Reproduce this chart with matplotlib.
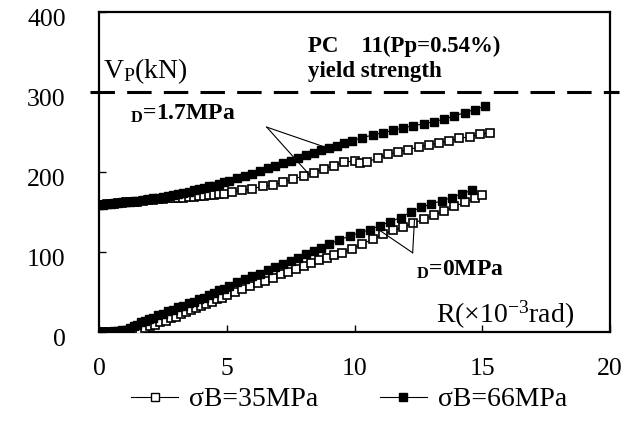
import matplotlib
matplotlib.use("Agg")
import matplotlib.pyplot as plt
import matplotlib.transforms as mtransforms

plt.rcParams['font.family'] = ['Liberation Serif', 'DejaVu Serif']
plt.rcParams['mathtext.fontset'] = 'custom'
plt.rcParams['mathtext.rm'] = 'Liberation Serif'
plt.rcParams['mathtext.it'] = 'Liberation Serif:italic'
plt.rcParams['mathtext.bf'] = 'Liberation Serif:bold'

# sigma_D = 1.7 MPa, sigma_B = 66 MPa (filled)
r_hi_66 = [0, 0.15, 0.3, 0.45, 0.6, 0.75, 0.9, 1.05, 1.2, 1.35, 1.5, 1.7, 1.9, 2.1, 2.3,
           2.5, 2.7, 2.9, 3.1, 3.3, 3.5, 3.7, 3.9, 4.1, 4.3, 4.5, 4.7, 4.9, 5.1, 5.4, 5.7,
           6.0, 6.3, 6.6, 6.9, 7.2, 7.5, 7.8, 8.1, 8.4, 8.7, 9.0, 9.3, 9.6, 9.9, 10.3, 10.7,
           11.1, 11.5, 11.9, 12.3, 12.7, 13.1, 13.5, 13.9, 14.3, 14.7, 15.1]
v_hi_66 = [159, 159, 160, 160, 161, 161, 162, 162, 163, 164, 164, 165, 166, 167, 168,
           169, 170, 171, 173, 174, 175, 177, 179, 180, 182, 183, 185, 187, 189, 192, 195,
           198, 201, 205, 208, 211, 214, 217, 221, 224, 227, 230, 233, 236, 239, 243, 246,
           249, 252, 255, 258, 260, 263, 266, 270, 274, 278, 282]

# sigma_D = 1.7 MPa, sigma_B = 35 MPa (open)
r_hi_35 = [0, 0.15, 0.3, 0.45, 0.6, 0.75, 0.9, 1.05, 1.2, 1.35, 1.5, 1.7, 1.9, 2.1, 2.3,
           2.5, 2.7, 2.9, 3.1, 3.3, 3.5, 3.7, 3.9, 4.1, 4.3, 4.5, 4.7, 4.9, 5.2, 5.6, 6.0,
           6.4, 6.8, 7.2, 7.6, 8.0, 8.4, 8.8, 9.2, 9.6, 10.0, 10.2, 10.5, 10.9, 11.3, 11.7,
           12.1, 12.5, 12.9, 13.3, 13.7, 14.1, 14.5, 14.9, 15.3]
v_hi_35 = [159, 159, 160, 160, 160, 161, 161, 162, 162, 163, 163, 164, 165, 165, 166,
           166, 167, 167, 168, 168, 169, 169, 170, 170, 171, 171, 172, 173, 175, 177, 179,
           182, 184, 187, 191, 195, 199, 204, 208, 212, 214, 211, 213, 217, 222, 225,
           228, 231, 234, 236, 239, 242, 244, 247, 249]

# sigma_D = 0 MPa, sigma_B = 66 MPa (filled)
r_lo_66 = [0, 0.15, 0.3, 0.45, 0.6, 0.75, 0.9, 1.05, 1.2, 1.35, 1.5, 1.65, 1.8, 1.95, 2.1,
           2.3, 2.5, 2.7, 2.9, 3.1, 3.3, 3.5, 3.7, 3.9, 4.1, 4.3, 4.5, 4.7, 4.9, 5.1, 5.4,
           5.7, 6.0, 6.3, 6.6, 6.9, 7.2, 7.5, 7.8, 8.1, 8.4, 8.7, 9.0, 9.4, 9.8, 10.2, 10.6,
           11.0, 11.4, 11.8, 12.2, 12.6, 13.0, 13.4, 13.8, 14.2, 14.6]
v_lo_66 = [0, 0, 0, 0, 1, 1, 2, 3, 5, 7, 9, 12, 14, 16, 18,
           21, 23, 26, 28, 31, 33, 36, 38, 41, 43, 46, 49, 52, 54, 58, 62,
           66, 70, 73, 77, 81, 85, 89, 93, 97, 101, 105, 110, 115, 120, 124, 128,
           133, 138, 143, 150, 156, 160, 164, 168, 173, 177]

# sigma_D = 0 MPa, sigma_B = 35 MPa (open)
r_lo_35 = [0, 0.2, 0.4, 0.6, 0.8, 1.0, 1.2, 1.4, 1.6, 1.8, 2.0, 2.2, 2.4, 2.6, 2.8,
           3.0, 3.2, 3.4, 3.6, 3.8, 4.0, 4.2, 4.4, 4.6, 4.8, 5.0, 5.3, 5.6, 5.9, 6.2, 6.5,
           6.8, 7.1, 7.4, 7.7, 8.0, 8.3, 8.6, 8.9, 9.2, 9.5, 9.9, 10.3, 10.7, 11.1, 11.5,
           11.9, 12.3, 12.7, 13.1, 13.5, 13.9, 14.3, 14.7, 15.0]
v_lo_35 = [0, 0, 0, 0, 0, 0, 1, 2, 3, 5, 7, 9, 12, 14, 17,
           19, 22, 25, 27, 30, 33, 35, 38, 41, 43, 46, 50, 54, 57, 61, 64,
           68, 72, 75, 79, 83, 86, 90, 93, 96, 99, 104, 110, 116, 122, 127,
           131, 136, 141, 146, 151, 157, 162, 167, 171]

x_ticks = [0, 5, 10, 15, 20]
y_ticks = [0, 100, 200, 300, 400]
yield_strength = 300

fig = plt.figure(figsize=(6.35, 4.23), dpi=100)
ax = fig.add_axes([0.156, 0.215, 0.805, 0.757])

# curves
ms = 6
ax.plot(r_hi_35, v_hi_35, color='black', lw=0.8, marker='s', ms=ms,
        mfc='white', mec='black', mew=1.2, zorder=3)
ax.plot(r_hi_66, v_hi_66, color='black', lw=0.8, marker='s', ms=ms,
        mfc='black', mec='black', zorder=4)
ax.plot(r_lo_35, v_lo_35, color='black', lw=0.8, marker='s', ms=ms,
        mfc='white', mec='black', mew=1.2, zorder=3)
ax.plot(r_lo_66, v_lo_66, color='black', lw=0.8, marker='s', ms=ms,
        mfc='black', mec='black', zorder=4)

# yield strength line
ax.plot([-0.35, 20.35], [yield_strength, yield_strength], color='black', lw=2.2,
        linestyle=(0, (8, 4)), clip_on=False, zorder=5)

# leader lines for the labels
ax.plot([6.56, 8.75], [256, 232], color='black', lw=0.8, zorder=6)
ax.plot([6.56, 8.16], [256, 199], color='black', lw=0.8, zorder=6)
ax.plot([12.27, 10.98], [99, 127], color='black', lw=0.8, zorder=6)
ax.plot([12.27, 12.34], [99, 140], color='black', lw=0.8, zorder=6)

ax.text(0.15, 317, r'$\mathregular{V_P}$(kN)', fontsize=20, va='baseline')
ax.text(8.16, 350, 'PC    11(Pp=0.54%)', fontsize=16.5, fontweight='bold', va='baseline')
ax.text(8.16, 318, 'yield strength', fontsize=16.5, fontweight='bold', va='baseline')
ax.text(1.2, 265, r'$_\mathbf{D}$=1.7MPa', fontsize=17, fontweight='bold', va='baseline')
ax.text(12.4, 71, r'$_\mathbf{D}$=0MPa', fontsize=17, fontweight='bold', va='baseline')
ax.text(13.2, 12, r'R($\times$10$^{-3}$rad)', fontsize=20, va='baseline')

ax.set_xlim(0, 20)
ax.set_ylim(0, 400)
ax.set_xticks(x_ticks)
ax.set_yticks(y_ticks)
ax.tick_params(direction='in', length=5, width=1, labelsize=18.5)
ax.tick_params(axis='x', pad=19)
ax.tick_params(axis='y', pad=24)
for sp in ax.spines.values():
    sp.set_linewidth(1.6)

# y labels sit a little below their ticks in the original
offset = mtransforms.ScaledTranslation(0, -4 / 72, fig.dpi_scale_trans)
for lbl in ax.get_yticklabels():
    lbl.set_transform(lbl.get_transform() + offset)

h1, = ax.plot([], [], color='black', lw=0.8, marker='s', ms=5.5, mfc='white', mec='black')
h2, = ax.plot([], [], color='black', lw=0.8, marker='s', ms=5.5, mfc='black', mec='black')
fig.legend([h1, h2], ['σB=35MPa', 'σB=66MPa'], loc='center', bbox_to_anchor=(0.55, 0.055),
           ncol=2, frameon=False, fontsize=20, handlelength=1.7, handletextpad=0.4,
           columnspacing=2.2)

fig.savefig('out.png', dpi=100)
